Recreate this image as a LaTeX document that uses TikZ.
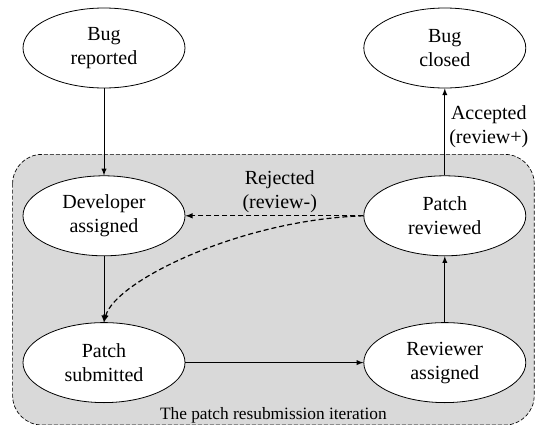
\documentclass[tikz,border=0pt]{standalone}
\usepackage{fontspec}
\setmainfont{Liberation Serif}
\newfontfamily\diagfont{Liberation Serif}
\usetikzlibrary{positioning}
\usetikzlibrary{calc}
\usetikzlibrary{arrows}
\usetikzlibrary{shapes}
\usetikzlibrary{backgrounds}
\definecolor{itergray}{RGB}{217,217,217}

\begin{document}
\begin{tikzpicture}[
    >=latex,
    % node styles
    state/.style = {
      ellipse,
      draw=black,
      fill=white,
      line width=0.6pt,
      minimum width=121.5pt,
      minimum height=60pt,
      inner sep=0pt,
      align=center,
      font=\diagfont\fontsize{15}{18}\selectfont
    },
    lbl/.style = {align=center, font=\diagfont\fontsize{15}{18}\selectfont},
    % arrow styles
    arr/.style = {->, line width=0.75pt},
    backarr/.style = {->, line width=0.9pt, dash pattern=on 3.75pt off 2.25pt},
    iterbox/.style = {fill=itergray, draw=black, line width=0.5pt,
      dash pattern=on 3pt off 1.5pt, rounded corners=22pt}
  ]

  % --- Nodes
  \node[state] (bugrep) {Bug\\reported};
  \node[state, below=65.25pt of bugrep] (devass) {Developer\\assigned};
  \node[state, below=49.5pt of devass] (patsub) {Patch\\submitted};
  \node[state, right=133.5pt of patsub] (revass) {Reviewer\\assigned};
  \node[state, right=133.5pt of devass] (patrev) {Patch\\reviewed};
  \node[state, right=133.5pt of bugrep] (bugclo) {Bug\\closed};

  \useasboundingbox ($(bugrep.center)+(-78pt,36pt)$) rectangle ++(407.25pt,-318.75pt);

  % --- the iteration box behind the lower four states
  \begin{scope}[on background layer]
    \coordinate (iterTL) at ($(devass.west |- patrev.north)+(-7.5pt,15.75pt)$);
    \coordinate (iterBR) at ($(revass.east |- patsub.south)+(6pt,-16.5pt)$);
    \draw[iterbox] (iterTL) rectangle (iterBR);
    \node[font=\diagfont\fontsize{13}{15}\selectfont, anchor=south, inner sep=1.5pt]
      (iterlbl) at ($(iterTL |- iterBR)!0.5!(iterBR)$) {The patch resubmission iteration};
  \end{scope}

  % --- Arrows
  \draw[arr] (bugrep) -- (devass);
  \draw[arr] (devass) -- (patsub);
  \draw[arr] (patsub) -- (revass);
  \draw[arr] (revass) -- (patrev);
  \draw[arr] (patrev) -- node[lbl, pos=0.56, right, inner sep=3pt] {Accepted\\(review+)} (bugclo);
  \draw[backarr] (patrev) -- node[lbl, midway, above, xshift=4pt, inner sep=2pt] {Rejected\\(review-)} (devass);
  \draw[backarr]
    (patrev.west) .. controls +(-92.25pt,-3pt) and +(8.25pt,30.75pt) .. (patsub.north);

\end{tikzpicture}
\end{document}
